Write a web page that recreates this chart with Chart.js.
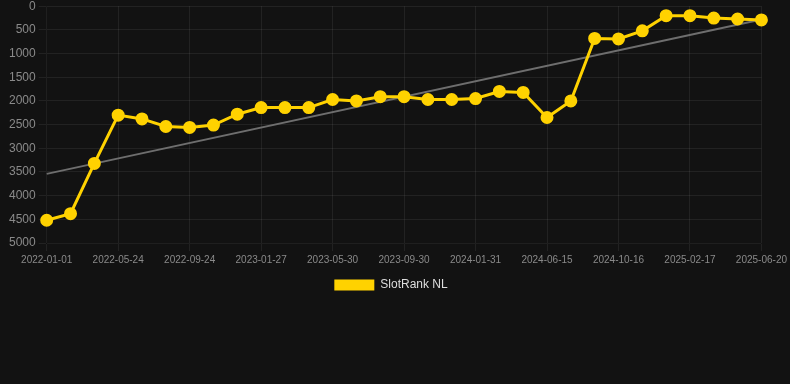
<!DOCTYPE html>
<html>
<head>
<meta charset="utf-8">
<script src="https://cdn.jsdelivr.net/npm/chart.js@4.4.0/dist/chart.umd.min.js"></script>
<style>
  html, body { margin: 0; padding: 0; background: #121212; overflow: hidden; }
  #wrap { width: 790px; height: 305px; margin-top: -4px; position: relative; }
</style>
</head>
<body>
<div id="wrap"><canvas id="rankChart"></canvas></div>
<script>
// dates of each sample
const dates = [
  "2022-01-01", "2022-02-17", "2022-04-05", "2022-05-24", "2022-07-04", "2022-08-14",
  "2022-09-24", "2022-11-05", "2022-12-16", "2023-01-27", "2023-03-09", "2023-04-19",
  "2023-05-30", "2023-07-10", "2023-08-20", "2023-09-30", "2023-11-10", "2023-12-21",
  "2024-01-31", "2024-03-16", "2024-04-30", "2024-06-15", "2024-07-26", "2024-09-05",
  "2024-10-16", "2024-11-26", "2025-01-06", "2025-02-17", "2025-03-31", "2025-05-10",
  "2025-06-20",
]

// rank values (lower is better)
const rankNL = [
  4520, 4380, 3320, 2300, 2380, 2540, 2560, 2510, 2280, 2140, 2140, 2140,
  1970, 2000, 1910, 1910, 1970, 1970, 1950, 1800, 1820, 2350, 2000, 680,
  690, 520, 200, 200, 250, 270, 290,
]

// trend line, only the two ends are known
const trendStart = 3540
const trendEnd = 280
const trend = dates.map((d, i) => (i === 0 ? trendStart : i === dates.length - 1 ? trendEnd : null))

const yTicks = { min: 0, max: 5000, step: 500 }

const gold = "#FFD200"
const gridColor = "rgba(255, 255, 255, 0.07)"
const tickColor = "#8a8a8a"

const ctx = document.getElementById("rankChart").getContext("2d")
const chart = new Chart(ctx, {
  type: "line",
  data: {
    labels: dates,
    datasets: [
      {
        label: "SlotRank NL",
        data: rankNL,
        borderColor: gold,
        backgroundColor: gold,
        pointBackgroundColor: gold,
        pointBorderColor: gold,
        borderWidth: 3,
        pointRadius: 5,
        tension: 0,
        order: 1,
      },
      {
        label: "trend",
        data: trend,
        borderColor: "#6e6e6e",
        borderWidth: 2,
        pointRadius: 0,
        spanGaps: true,
        order: 2,
      },
    ],
  },
  options: {
    responsive: true,
    maintainAspectRatio: false,
    animation: false,
    layout: { padding: { left: 6, right: 0, top: 0, bottom: 0 } },
    scales: {
      x: {
        grid: {
          color: (c) => (c.index % 3 === 0 ? gridColor : "transparent"),
        },
        ticks: {
          color: tickColor,
          font: { family: "Liberation Sans, Arial", size: 10 },
          autoSkip: false,
          maxRotation: 0,
          callback: function (val, i) {
            return i % 3 === 0 ? this.getLabelForValue(val) : ""
          },
        },
      },
      y: {
        reverse: true,
        min: yTicks.min,
        max: yTicks.max,
        grid: { color: gridColor },
        ticks: {
          stepSize: yTicks.step,
          color: tickColor,
          font: { family: "Liberation Sans, Arial", size: 12 },
          callback: (v) => String(v),
        },
      },
    },
    plugins: {
      legend: {
        position: "bottom",
        labels: {
          color: "#dddddd",
          font: { family: "Liberation Sans, Arial", size: 12 },
          boxWidth: 40,
          boxHeight: 11,
          filter: (item) => item.text !== "trend",
          generateLabels: (c) =>
            Chart.defaults.plugins.legend.labels.generateLabels(c).map((l) => ({ ...l, lineWidth: 0 })),
        },
      },
      tooltip: { enabled: false },
    },
  },
})

// legend sits a little left of centre in the original
const legendDraw = chart.legend.draw.bind(chart.legend)
chart.legend.draw = function () {
  ctx.save()
  ctx.translate(-7, 0)
  legendDraw()
  ctx.restore()
}
chart.draw()
</script>
</body>
</html>
